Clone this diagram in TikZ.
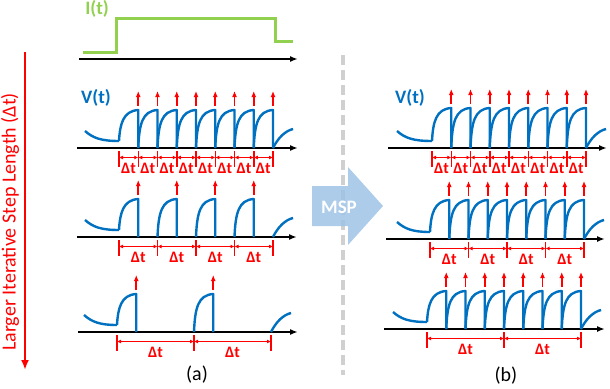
\documentclass[tikz,border=0pt]{standalone}
\usepackage{fontspec}
\setmainfont{Carlito}
\usetikzlibrary{arrows.meta}
\definecolor{vblue}{HTML}{0070C0}
\definecolor{igreen}{HTML}{92D050}
\definecolor{mspblue}{HTML}{9DC3E6}
\definecolor{divgray}{HTML}{D0D0D0}
\tikzset{
  vline/.style={vblue, line width=2.4pt, line join=round},
  taxis/.style={line width=2.2pt, -{Latex[length=8pt,width=6pt]}},
  marker/.style={red, line width=1.6pt, -{Latex[length=6pt,width=5pt]}},
  tickmark/.style={red, line width=1.5pt},
  dtarrow/.style={red, line width=1pt, {Latex[length=4pt,width=4pt]}-{Latex[length=4pt,width=4pt]}},
  dtlabel/.style={red, font=\fontsize{16}{16}\selectfont\bfseries, inner sep=0pt},
  biglabel/.style={font=\fontsize{20}{20}\selectfont, inner sep=0pt},
  siglabel/.style={font=\fontsize{19}{19}\selectfont\bfseries, inner sep=0pt},
}
% one V(t) row: #1 axis y, #2 top y, #3 decay x, #4 first rise x,
% #5 pulse period, #6 last pulse index, #7 Delta t gap, #8 number of gaps, #9 row name
\newcommand{\vrow}[9]{%
  \draw[vline] (#3,#1-17) .. controls (#3+8,#1-10) and (#3+16,#1-7) .. (#4,#1-7);
  \foreach \k in {0,...,#6}{
    \pgfmathsetmacro\s{#4+#5*\k}
    \ifnum\k=0 \def\b{#1-7}\else\def\b{#1}\fi
    \draw[vline] (\s,\b) .. controls (\s+1,#2+14) and (\s+4,#2+1) .. (\s+19.25,#2) -- (\s+19.25,#1);
    \draw[marker] (\s+19.25,#2-4) -- (\s+19.25,#2-19);
  }
  \pgfmathsetmacro\e{#4+#7*#8}
  \draw[vline] (\e,#1) .. controls (\e+5,#1-10) and (\e+12,#1-17) .. (\e+20,#1-19);
  \foreach \k in {0,...,#8}{
    \coordinate (#9-t\k) at (#4+#7*\k,#1+9.5);
    \draw[tickmark] (#4+#7*\k,#1+3) -- (#4+#7*\k,#1+19);
  }
  \foreach \k [evaluate=\k as \j using int(\k-1)] in {1,...,#8}{
    \draw[dtarrow] (#9-t\j) -- (#9-t\k);
    \node[dtlabel] (#9-dt\k) at (#4+#7*\k-#7/2,#1+20) {Δt};
  }
}
\begin{document}
\begin{tikzpicture}[x=1pt, y=-1pt]
\useasboundingbox (0,0) rectangle (610,388);
% divider and MSP arrow
\draw[divgray, line width=4pt, dash pattern=on 10pt off 5pt] (343,55) -- (343,375);
\fill[mspblue, opacity=0.85] (312,186) -- (348,186) -- (348,167) -- (383,206) -- (348,245) -- (348,226) -- (312,226) -- cycle;
\node[siglabel, white] (msp) at (339,207) {MSP};
% step length arrow
\draw[red, line width=2.5pt, -{Latex[length=10pt,width=8pt]}] (25,52) -- (25,370);
\node[biglabel, red, rotate=90] (steplen) at (10,222) {Larger Iterative Step Length (Δt)};
% current
\draw[taxis] (79,59) -- (298,59);
\draw[igreen, line width=3pt] (83,52) -- (116,52) -- (116,18) -- (275,18) -- (275,41) -- (293,41);
\node[siglabel, igreen] (it) at (97,9) {I(t)};
% axes
\foreach \xa/\xb/\y in {77/298/148, 77/297/237, 78/298/332, 388/607/148, 386/605/239, 384/605/329}
  \draw[taxis] (\xa,\y) -- (\xb,\y);
\node[siglabel, vblue] (vl) at (96,98) {V(t)};
\node[siglabel, vblue] (vr) at (410,98) {V(t)};
% left: (a)
\vrow{148}{110}{85}{119}{19.25}{7}{19.25}{8}{la}
\vrow{237}{199}{85}{119}{38.5}{3}{38.5}{4}{lb}
\vrow{332}{294}{84}{117}{77}{1}{77}{2}{lc}
% right: (b)
\vrow{148}{108}{397}{432}{19.25}{7}{19.25}{8}{ra}
\vrow{239}{200}{397}{430}{19.25}{7}{38.5}{4}{rb}
\vrow{329}{291}{393}{427}{19.25}{7}{77}{2}{rc}
\node[biglabel] (capa) at (197,375) {(a)};
\node[biglabel] (capb) at (506,376) {(b)};
\end{tikzpicture}
\end{document}
